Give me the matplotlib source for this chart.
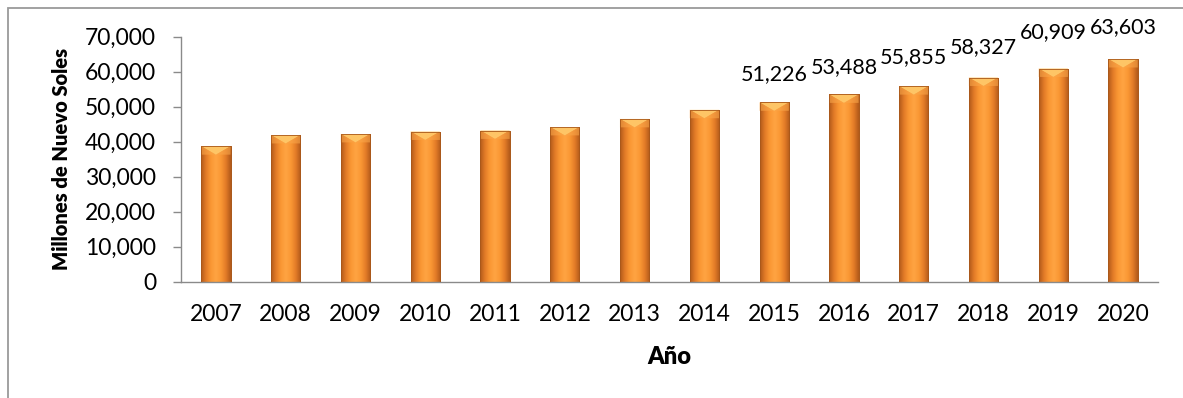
import numpy as np
import matplotlib
matplotlib.use("Agg")
import matplotlib.pyplot as plt
from matplotlib.colors import LinearSegmentedColormap
from matplotlib.patches import Polygon, Rectangle

# ---- data ----
years = ["2007", "2008", "2009", "2010", "2011", "2012", "2013",
         "2014", "2015", "2016", "2017", "2018", "2019", "2020"]
values = [38700, 41900, 42200, 42900, 43200, 44200, 46500,
          49100, 51226, 53488, 55855, 58327, 60909, 63603]
labeled_years = ["2015", "2016", "2017", "2018", "2019", "2020"]
label_offsets_px = [28, 27, 29, 30, 36, 32]
yticks = [0, 10000, 20000, 30000, 40000, 50000, 60000, 70000]

plt.rcParams['font.family'] = ['Lato', 'DejaVu Sans']

W, H = 1183, 398
fig = plt.figure(figsize=(W / 100, H / 100), dpi=100)
fig.patch.set_facecolor("white")

ax_left, ax_right = 181 / W, 1158 / W
ax_bottom, ax_top = 1 - 281.7 / H, 1 - 36.7 / H
ax = fig.add_axes([ax_left, ax_bottom, ax_right - ax_left, ax_top - ax_bottom])

# outer chart frame
frame = Rectangle((8 / W, -0.2), 1.2, 1 - 8 / H + 0.2, transform=fig.transFigure,
                  fill=False, edgecolor="#9a9a9a", linewidth=1.3, zorder=0)
fig.patches.append(frame)

x = np.arange(len(years))
bw = 0.42
bars = ax.bar(x, values, width=bw, color="#F7922E", edgecolor="#A8581A",
              linewidth=0.6, zorder=2)

cmap = LinearSegmentedColormap.from_list(
    "bar", ["#B25A1A", "#E47C28", "#FA9834", "#FFA443", "#FA9834", "#E47C28", "#B25A1A"])
grad = np.linspace(0, 1, 64).reshape(1, -1)
bevel = 2400
for b in bars:
    x0, w, h = b.get_x(), b.get_width(), b.get_height()
    im = ax.imshow(grad, extent=[x0, x0 + w, 0, h], aspect="auto", cmap=cmap,
                   origin="lower", zorder=2.5, interpolation="bicubic")
    im.set_clip_path(b)
    tri = Polygon([[x0, h], [x0 + w, h], [x0 + w / 2, h - bevel]], closed=True,
                  facecolor="#FFC869", edgecolor="none", alpha=0.95, zorder=3)
    ax.add_patch(tri)
    side_l = Polygon([[x0, h], [x0 + w / 2, h - bevel], [x0, h - bevel]], closed=True,
                     facecolor="#F9A548", edgecolor="none", alpha=0.6, zorder=3)
    side_r = Polygon([[x0 + w, h], [x0 + w / 2, h - bevel], [x0 + w, h - bevel]], closed=True,
                     facecolor="#F9A548", edgecolor="none", alpha=0.6, zorder=3)
    ax.add_patch(side_l)
    ax.add_patch(side_r)
    ax.add_patch(Rectangle((x0, 0), w, h, fill=False, edgecolor="#A8581A",
                           linewidth=0.6, zorder=3.5))

ax.set_xlim(-0.5, len(years) - 0.5)
ax.set_ylim(0, 70000)
ax.set_xticks(x)
ax.set_xticklabels(years, fontsize=16.5)
ax.set_yticks(yticks)
ax.set_yticklabels([f"{v:,}" for v in yticks], fontsize=16.5)

for s in ["top", "right"]:
    ax.spines[s].set_visible(False)
for s in ["left", "bottom"]:
    ax.spines[s].set_color("#8a8a8a")
    ax.spines[s].set_linewidth(1.0)
ax.tick_params(axis="y", length=6, width=1.0, color="#8a8a8a", pad=12)
ax.tick_params(axis="x", length=0, pad=16)

ax.set_ylabel("Millones de Nuevo Soles", fontsize=14.5, fontweight="heavy")
ax.yaxis.set_label_coords(-0.122, 0.5)
ax.yaxis.label.set_va("center")
ax.set_xlabel("Año", fontsize=17, fontweight="heavy")
ax.xaxis.set_label_coords(0.5, -0.307)
ax.xaxis.label.set_va("center")

px_to_pt = 72 / 100
for yr, off in zip(labeled_years, label_offsets_px):
    i = years.index(yr)
    ax.annotate(f"{values[i]:,}", xy=(x[i], values[i]), xytext=(0, off * px_to_pt),
                textcoords="offset points", ha="center", va="center",
                fontsize=15.5, annotation_clip=False)

fig.savefig("out.png", dpi=100, facecolor="white")
